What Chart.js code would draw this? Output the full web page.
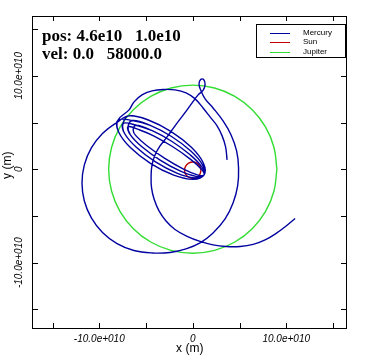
<!DOCTYPE html>
<html>
<head>
<meta charset="utf-8">
<script src="https://cdn.jsdelivr.net/npm/chart.js@4.4.1/dist/chart.umd.min.js"></script>
<style>
body{margin:0;background:#fff}
#wrap{width:367px;height:364px;position:relative}
</style>
</head>
<body>
<div id="wrap"><canvas id="orbit"></canvas></div>
<script>
// positions in units of 1e10 m
// mercury: first wide arc, nested orbits round the sun, then the big outer loops

let mercuryX=[3.67,3.51,3.14,2.60,1.85,1.10,0.25,-0.72,-1.90,-3.18,-4.36,-5.43,-6.28,-6.82,
-8.01,-7.93,-6.65,-4.49,-2.04,0.05,1.21,1.14,-0.15,-2.31,-4.76,-6.84,
-7.46,-7.31,-6.04,-3.99,-1.70,0.20,1.21,1.06,-0.21,-2.27,-4.55,-6.45,
-6.92,-6.69,-5.44,-3.49,-1.37,0.35,1.21,0.98,-0.28,-2.22,-4.34,-6.06,
-6.38,-6.07,-4.83,-2.99,-1.04,0.50,1.21,0.90,-0.34,-2.18,-4.14,-5.67,
-6.92,-6.69,-5.44,-3.49,-1.37,0.35,1.21,0.98,-0.28,-2.22,-4.34,-6.06,
-7.46,-7.31,-6.04,-3.99,-1.70,0.20,1.21,1.06,-0.21,-2.27,-4.55,-6.45,
-8.01,-7.93,-6.65,-4.49,-2.04,0.05,1.21,1.14,-0.15,-2.31,-4.76,-6.84,
-8.10,-9.66,-10.85,-11.60,-11.85,-11.60,-10.85,-9.66,-8.10,-6.30,-4.36,-2.43,-0.72,0.78,2.17,3.46,4.31,4.80,4.90,4.69,4.10,3.24,2.17,1.32,0.84,
0.67,0.84,1.16,1.32,1.10,0.57,-0.07,-0.93,-1.90,-2.75,-3.50,-4.04,-4.36,-4.46,-4.41,-4.14,-3.61,-2.86,-1.90,-0.61,0.78,2.17,3.57,5.06,6.46,7.74,8.92,9.99,10.95]

let mercuryY=[1.00,2.39,3.57,4.64,5.60,6.56,7.53,8.17,8.49,8.54,8.38,7.96,7.21,6.35,
5.24,3.99,2.29,0.60,-0.63,-1.08,-0.61,0.64,2.34,4.03,5.27,5.71,
4.90,3.85,2.35,0.79,-0.41,-0.92,-0.61,0.44,1.94,3.50,4.70,5.21,
4.55,3.71,2.40,0.98,-0.18,-0.76,-0.61,0.23,1.54,2.97,4.12,4.71,
4.21,3.57,2.46,1.17,0.05,-0.60,-0.61,0.03,1.14,2.43,3.55,4.20,
4.55,3.71,2.40,0.98,-0.18,-0.76,-0.61,0.23,1.54,2.97,4.12,4.71,
4.90,3.85,2.35,0.79,-0.41,-0.92,-0.61,0.44,1.94,3.50,4.70,5.21,
5.24,3.99,2.29,0.60,-0.63,-1.08,-0.61,0.64,2.34,4.03,5.27,5.71,
5.02,3.83,2.28,0.47,-1.47,-3.40,-5.21,-6.77,-7.96,-8.70,-8.96,-8.91,-8.53,-7.89,-6.82,-5.32,-3.61,-1.79,0.14,1.96,3.67,5.17,6.56,7.53,8.49,
9.13,9.61,9.61,9.08,8.44,7.96,7.10,5.92,4.64,3.46,2.49,1.53,0.46,-0.72,-2.00,-3.18,-4.46,-5.54,-6.45,-7.19,-7.73,-8.10,-8.27,-8.27,-8.05,-7.57,-6.87,-6.07,-5.27]

let sunX=[0.88,0.76,0.44,0,-0.44,-0.76,-0.88,-0.76,-0.44,0,0.44,0.76,0.88]
let sunY=[-0.1,0.34,0.66,0.78,0.66,0.34,-0.1,-0.54,-0.86,-0.98,-0.86,-0.54,-0.1]

let jupiterX=[9,8.69,7.79,6.36,4.5,2.33,0,-2.33,-4.5,-6.36,-7.79,-8.69,-9,-8.69,-7.79,-6.36,-4.5,-2.33,0,2.33,4.5,6.36,7.79,8.69,9]
let jupiterY=[0,2.33,4.5,6.36,7.79,8.69,9,8.69,7.79,6.36,4.5,2.33,0,-2.33,-4.5,-6.36,-7.79,-8.69,-9,-8.69,-7.79,-6.36,-4.5,-2.33,0]

let seriesNames=["Mercury","Sun","Jupiter"]
let seriesColors=["#0000a0","#c00000","#33dd33"]

let tickValues=[-15,-10,-5,0,5,10,15]
let labelValues=[-10,0,10]
let tickLabels=["-10.0e+010","0","10.0e+010"]
let infoLines=["pos: 4.6e10   1.0e10","vel: 0.0   58000.0"]

function pts(xs,ys){
return xs.map((x,i)=>({x:x,y:ys[i]}))
}

// frame, inward ticks, labels, legend, info text
const decor={
id:"decor",
afterDraw(c){
let ctx=c.ctx
let a=c.chartArea
let sx=c.scales.x
let sy=c.scales.y
ctx.save()
ctx.strokeStyle="#000"
ctx.lineWidth=1
ctx.strokeRect(a.left+0.5,a.top+0.5,a.right-a.left-1,a.bottom-a.top-1)

ctx.beginPath()
tickValues.forEach(v=>{
let px=Math.round(sx.getPixelForValue(v))+0.5
ctx.moveTo(px,a.bottom);ctx.lineTo(px,a.bottom-6)
ctx.moveTo(px,a.top);ctx.lineTo(px,a.top+5)
let py=Math.round(sy.getPixelForValue(v))+0.5
ctx.moveTo(a.left,py);ctx.lineTo(a.left+6,py)
ctx.moveTo(a.right,py);ctx.lineTo(a.right-6,py)
})
ctx.stroke()

ctx.fillStyle="#000"
ctx.font="italic 10px 'Liberation Sans'"
ctx.textAlign="center"
ctx.textBaseline="middle"
labelValues.forEach((v,i)=>{
ctx.fillText(tickLabels[i],sx.getPixelForValue(v),339)
ctx.save()
ctx.translate(19,sy.getPixelForValue(v))
ctx.rotate(-Math.PI/2)
ctx.fillText(tickLabels[i],0,0)
ctx.restore()
})

ctx.font="12px 'Liberation Sans'"
ctx.fillText("x (m)",sx.getPixelForValue(0)-3,349)
ctx.save()
ctx.translate(8,sy.getPixelForValue(0)-4)
ctx.rotate(-Math.PI/2)
ctx.fillText("y (m)",0,0)
ctx.restore()

// legend box
ctx.fillStyle="#fff"
ctx.fillRect(256,24,89,33)
ctx.strokeRect(256.5,24.5,89,33)
ctx.font="8px 'Liberation Sans'"
ctx.textAlign="left"
c.data.datasets.forEach((d,i)=>{
let y=32.5+i*9.5
ctx.strokeStyle=d.borderColor
ctx.beginPath()
ctx.moveTo(270,Math.round(y)+0.5)
ctx.lineTo(290,Math.round(y)+0.5)
ctx.stroke()
ctx.fillStyle="#000"
ctx.fillText(d.label,303,y)
})

ctx.font="bold 17px 'Liberation Serif'"
ctx.textBaseline="alphabetic"
ctx.fillText(infoLines[0],42,41)
ctx.fillText(infoLines[1],42,59)
ctx.restore()
}
}

new Chart(document.getElementById("orbit"),{
type:"scatter",
data:{
datasets:[
{label:seriesNames[0],data:pts(mercuryX,mercuryY),showLine:true,borderColor:seriesColors[0],borderWidth:1.4,pointRadius:0,tension:0.4,fill:false},
{label:seriesNames[1],data:pts(sunX,sunY),showLine:true,borderColor:seriesColors[1],borderWidth:1.4,pointRadius:0,tension:0.4,fill:false},
{label:seriesNames[2],data:pts(jupiterX,jupiterY),showLine:true,borderColor:seriesColors[2],borderWidth:1.4,pointRadius:0,tension:0.4,fill:false}
]
},
options:{
responsive:true,
maintainAspectRatio:false,
animation:false,
layout:{padding:{left:32,top:16,right:20,bottom:35}},
plugins:{legend:{display:false},tooltip:{enabled:false}},
scales:{
x:{type:"linear",min:-17.2,max:16.5,display:false},
y:{type:"linear",min:-17.1,max:16.4,display:false}
}
},
plugins:[decor]
})
</script>
</body>
</html>
